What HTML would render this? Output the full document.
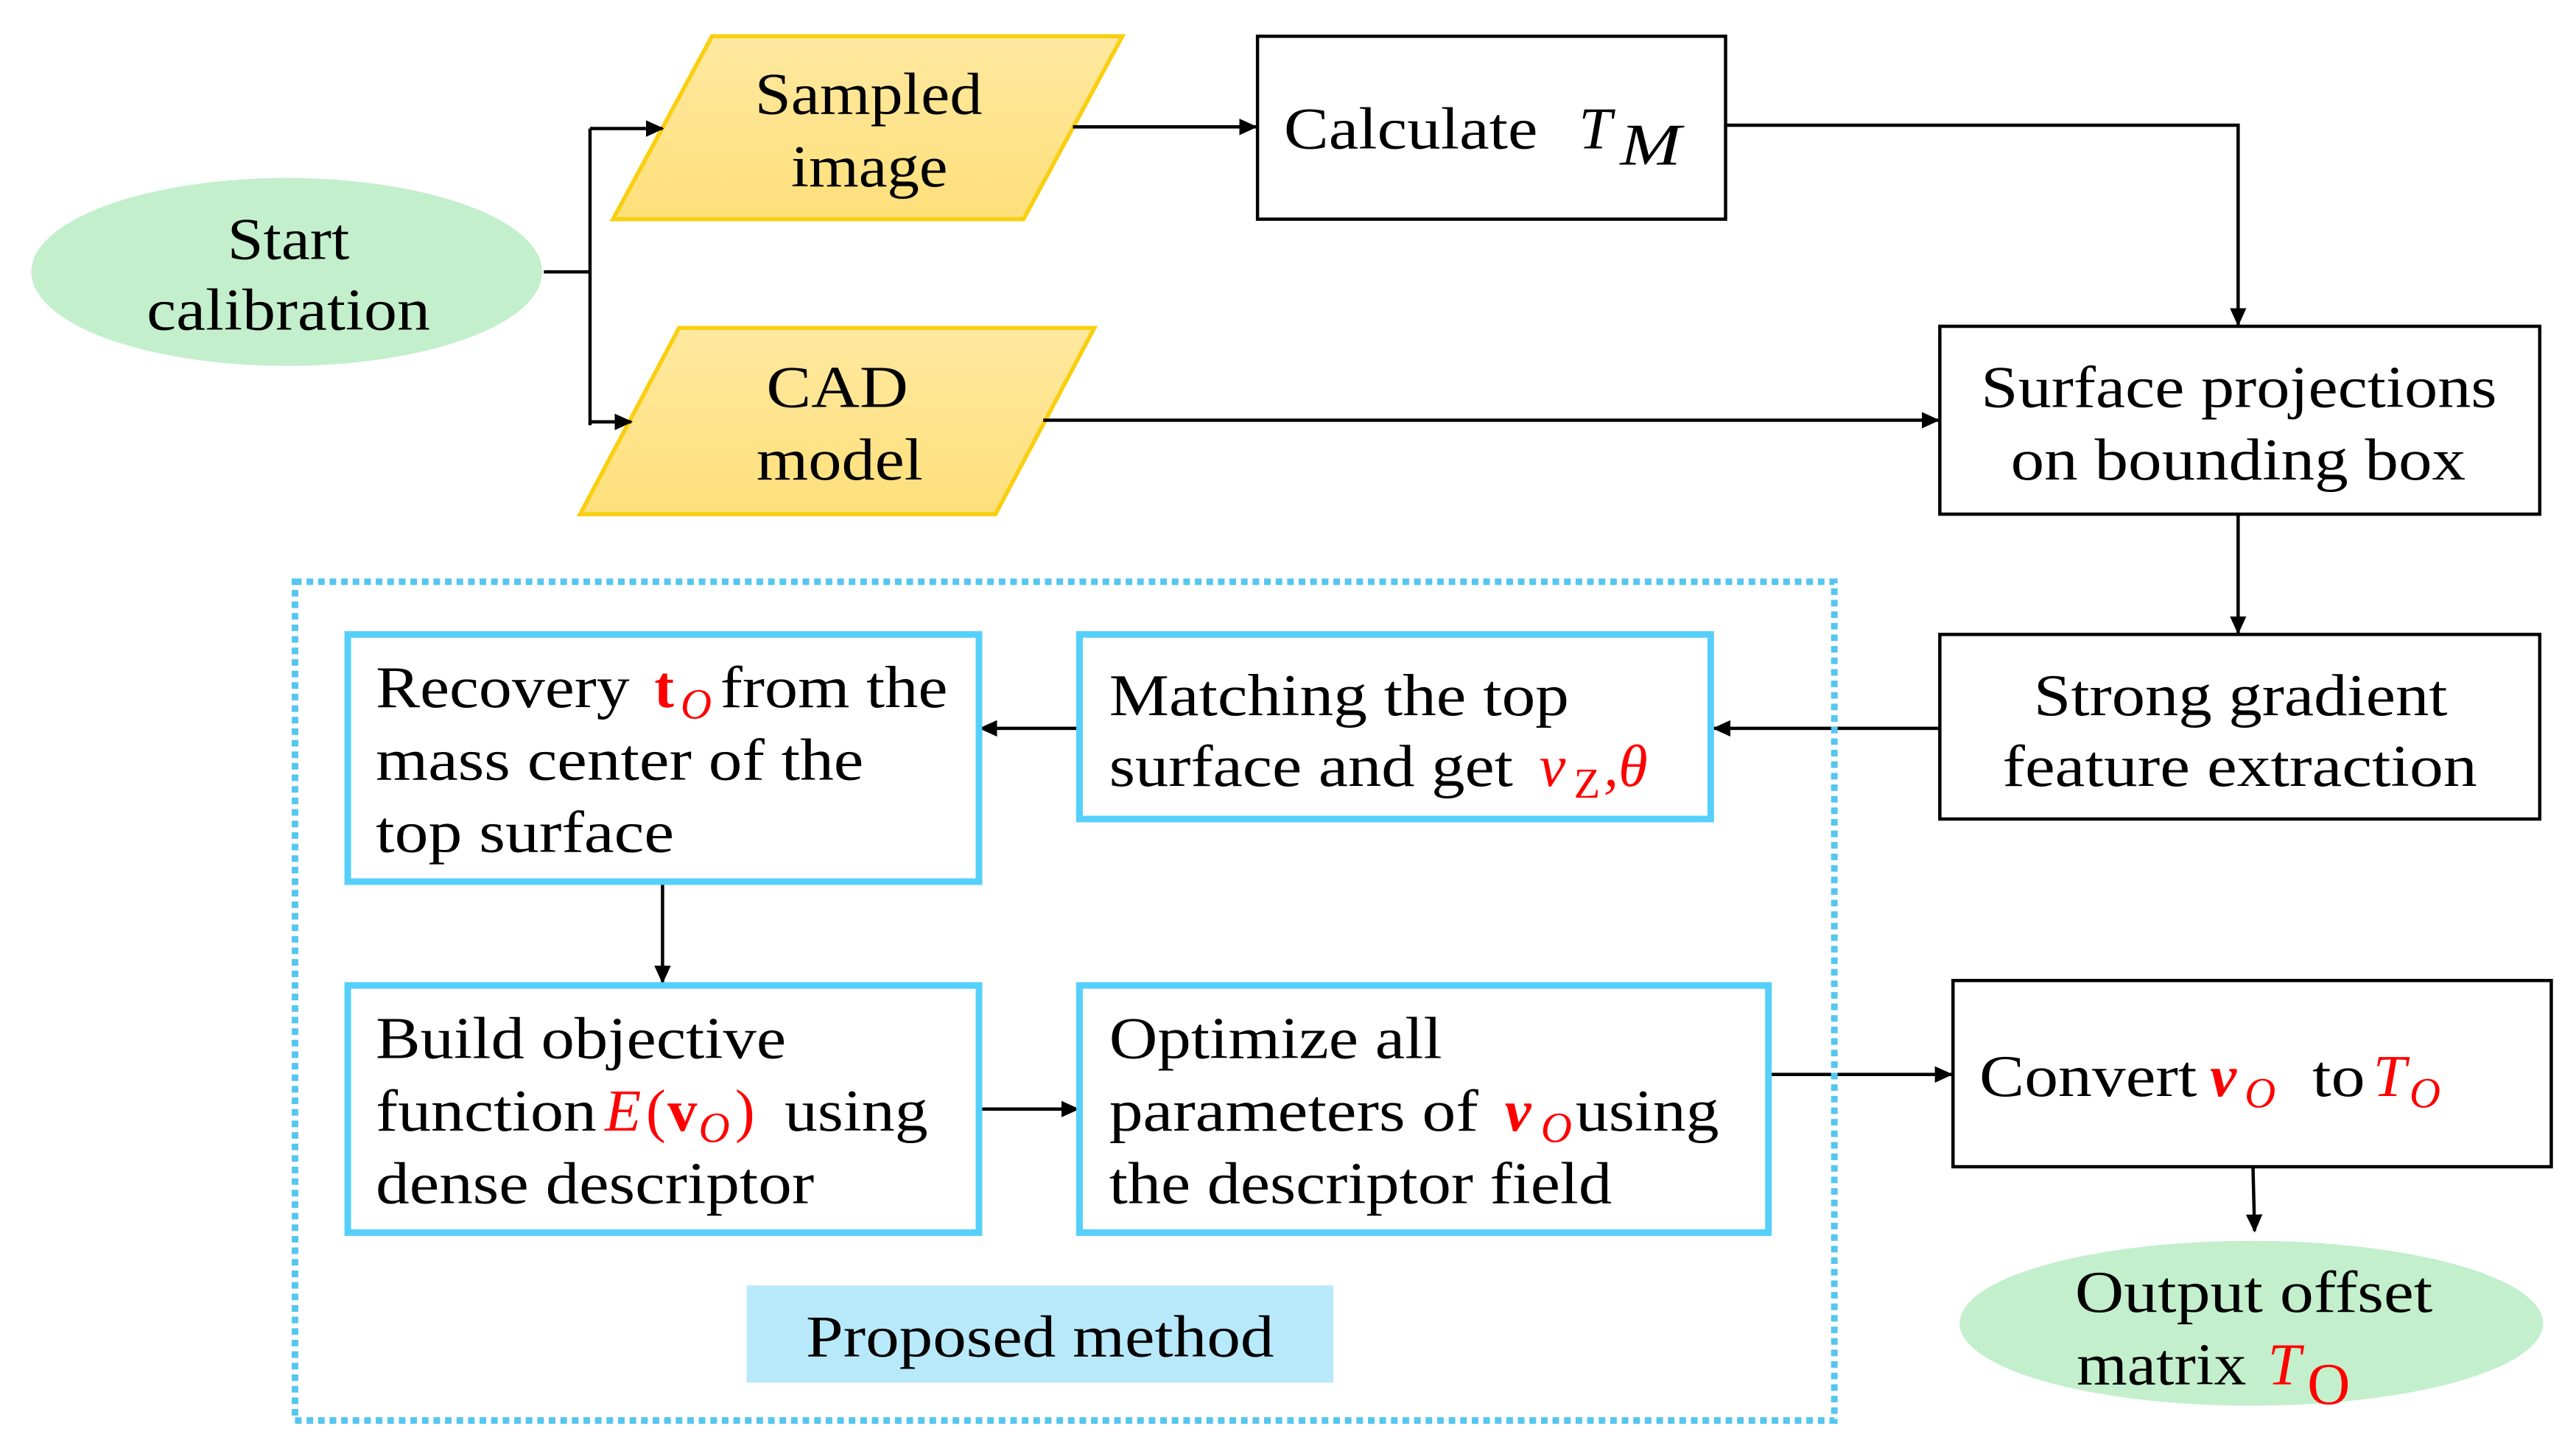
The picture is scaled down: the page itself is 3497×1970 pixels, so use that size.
<!DOCTYPE html>
<html><head><meta charset="utf-8"><style>
html,body{margin:0;padding:0;background:#fff;}
svg{display:block;}
text{font-family:"Liberation Serif",serif;font-size:36px;fill:#000;}
.r{fill:#ff0000;}
.i{font-style:italic;}
.b{font-weight:bold;}
.s{font-size:26px;}
</style></head><body>
<svg width="3497" height="1970" viewBox="0 0 1563 880.5" preserveAspectRatio="none" xmlns="http://www.w3.org/2000/svg">
<defs>
<linearGradient id="y" x1="0" y1="0" x2="0" y2="1"><stop offset="0" stop-color="#ffe8a0"/><stop offset="1" stop-color="#fde07a"/></linearGradient>
<marker id="a" markerWidth="12" markerHeight="12" refX="10" refY="5" orient="auto" markerUnits="userSpaceOnUse"><path d="M0,0 L11,5 L0,10 z" fill="#000"/></marker>
</defs>
<rect width="1563" height="880.5" fill="#fff"/>
<ellipse cx="174" cy="165" rx="155" ry="57" fill="#c3efcc"/>
<text x="138" y="157" textLength="74" lengthAdjust="spacingAndGlyphs">Start</text>
<text x="89" y="200" textLength="172" lengthAdjust="spacingAndGlyphs">calibration</text>
<polygon points="372,133 432,22 681,22 621,133" fill="url(#y)" stroke="#f9cf10" stroke-width="2.5"/>
<text x="458" y="69" textLength="138" lengthAdjust="spacingAndGlyphs">Sampled</text>
<text x="480" y="113" textLength="95" lengthAdjust="spacingAndGlyphs">image</text>
<polygon points="352,312 412,199 664,199 604,312" fill="url(#y)" stroke="#f9cf10" stroke-width="2.5"/>
<text x="465" y="247" textLength="86" lengthAdjust="spacingAndGlyphs">CAD</text>
<text x="459" y="291" textLength="101" lengthAdjust="spacingAndGlyphs">model</text>
<g stroke="#000" stroke-width="2" fill="none">
<path d="M330,165 H358"/>
<path d="M358,78 V258"/>
<path d="M358,78 H402" marker-end="url(#a)"/>
<path d="M358,256 H383" marker-end="url(#a)"/>
<path d="M651,77 H762" marker-end="url(#a)"/>
<path d="M1047,76 H1358 V197" marker-end="url(#a)"/>
<path d="M633,255 H1176" marker-end="url(#a)"/>
<path d="M1358,312 V384" marker-end="url(#a)"/>
<path d="M1177,442 H1040" marker-end="url(#a)"/>
<path d="M655,442 H595" marker-end="url(#a)"/>
<path d="M402,535 V596" marker-end="url(#a)"/>
<path d="M594,673 H654" marker-end="url(#a)"/>
<path d="M1073,652 H1184" marker-end="url(#a)"/>
<path d="M1367,708 L1368,747" marker-end="url(#a)"/>
</g>
<rect x="763" y="22" width="284" height="111" fill="#fff" stroke="#000" stroke-width="2"/>
<text x="779" y="90" textLength="154" lengthAdjust="spacingAndGlyphs">Calculate</text>
<text x="958" y="90" class="i">T</text><text x="983" y="100" class="i" textLength="37" lengthAdjust="spacingAndGlyphs">M</text>
<rect x="1177" y="198" width="364" height="114" fill="#fff" stroke="#000" stroke-width="2"/>
<text x="1202" y="247" textLength="313" lengthAdjust="spacingAndGlyphs">Surface projections</text>
<text x="1220" y="291" textLength="276" lengthAdjust="spacingAndGlyphs">on bounding box</text>
<rect x="1177" y="385" width="364" height="112" fill="#fff" stroke="#000" stroke-width="2"/>
<text x="1234" y="434" textLength="251" lengthAdjust="spacingAndGlyphs">Strong gradient</text>
<text x="1215" y="477" textLength="288" lengthAdjust="spacingAndGlyphs">feature extraction</text>
<rect x="1185" y="595" width="363" height="113" fill="#fff" stroke="#000" stroke-width="2"/>
<text x="1201" y="665" textLength="132" lengthAdjust="spacingAndGlyphs">Convert</text>
<text x="1341" y="665" class="r i b">v</text><text x="1362" y="672" class="r i s">O</text>
<text x="1403" y="665" textLength="32" lengthAdjust="spacingAndGlyphs">to</text>
<text x="1440" y="665" class="r i">T</text><text x="1462" y="672" class="r i s">O</text>
<ellipse cx="1366" cy="803" rx="177" ry="50" fill="#c3efcc"/>
<text x="1259" y="796" textLength="217" lengthAdjust="spacingAndGlyphs">Output offset</text>
<text x="1260" y="840" textLength="103" lengthAdjust="spacingAndGlyphs">matrix</text>
<text x="1376" y="840" class="r i">T</text><text x="1400" y="852" class="r">O</text>
<rect x="179" y="353" width="934" height="509" fill="none" stroke="#55c6f0" stroke-width="4" stroke-dasharray="4,3"/>
<g fill="#fff" stroke="#55d0fa" stroke-width="4">
<rect x="211" y="385" width="383" height="150"/>
<rect x="655" y="385" width="383" height="112"/>
<rect x="211" y="598" width="383" height="150"/>
<rect x="655" y="598" width="418" height="150"/>
</g>
<text x="228" y="429" textLength="154" lengthAdjust="spacingAndGlyphs">Recovery</text>
<text x="397" y="429" class="r b">t</text><text x="413" y="436" class="r i s">O</text>
<text x="437" y="429" textLength="138" lengthAdjust="spacingAndGlyphs">from the</text>
<text x="228" y="473" textLength="296" lengthAdjust="spacingAndGlyphs">mass center of the</text>
<text x="228" y="517" textLength="181" lengthAdjust="spacingAndGlyphs">top surface</text>
<text x="673" y="434" textLength="279" lengthAdjust="spacingAndGlyphs">Matching the top</text>
<text x="673" y="477" textLength="245" lengthAdjust="spacingAndGlyphs">surface and get</text>
<text x="934" y="477" class="r i">v</text><text x="955" y="484" class="r s">Z</text><text x="973" y="477" class="r i">,θ</text>
<text x="228" y="642" textLength="249" lengthAdjust="spacingAndGlyphs">Build objective</text>
<text x="228" y="686" textLength="134" lengthAdjust="spacingAndGlyphs">function</text>
<text x="367" y="686" class="r i">E</text><text x="392" y="686" class="r">(</text><text x="405" y="686" class="r b">v</text><text x="424" y="693" class="r i s">O</text><text x="446" y="686" class="r">)</text>
<text x="476" y="686" textLength="87" lengthAdjust="spacingAndGlyphs">using</text>
<text x="228" y="730" textLength="266" lengthAdjust="spacingAndGlyphs">dense descriptor</text>
<text x="673" y="642" textLength="202" lengthAdjust="spacingAndGlyphs">Optimize all</text>
<text x="673" y="686" textLength="224" lengthAdjust="spacingAndGlyphs">parameters of</text>
<text x="913" y="686" class="r i b">v</text><text x="935" y="693" class="r i s">O</text>
<text x="956" y="686" textLength="87" lengthAdjust="spacingAndGlyphs">using</text>
<text x="673" y="730" textLength="305" lengthAdjust="spacingAndGlyphs">the descriptor field</text>
<rect x="453" y="780" width="356" height="59" fill="#b8e9fb"/>
<text x="489" y="823" textLength="284" lengthAdjust="spacingAndGlyphs">Proposed method</text>
</svg>
</body></html>
